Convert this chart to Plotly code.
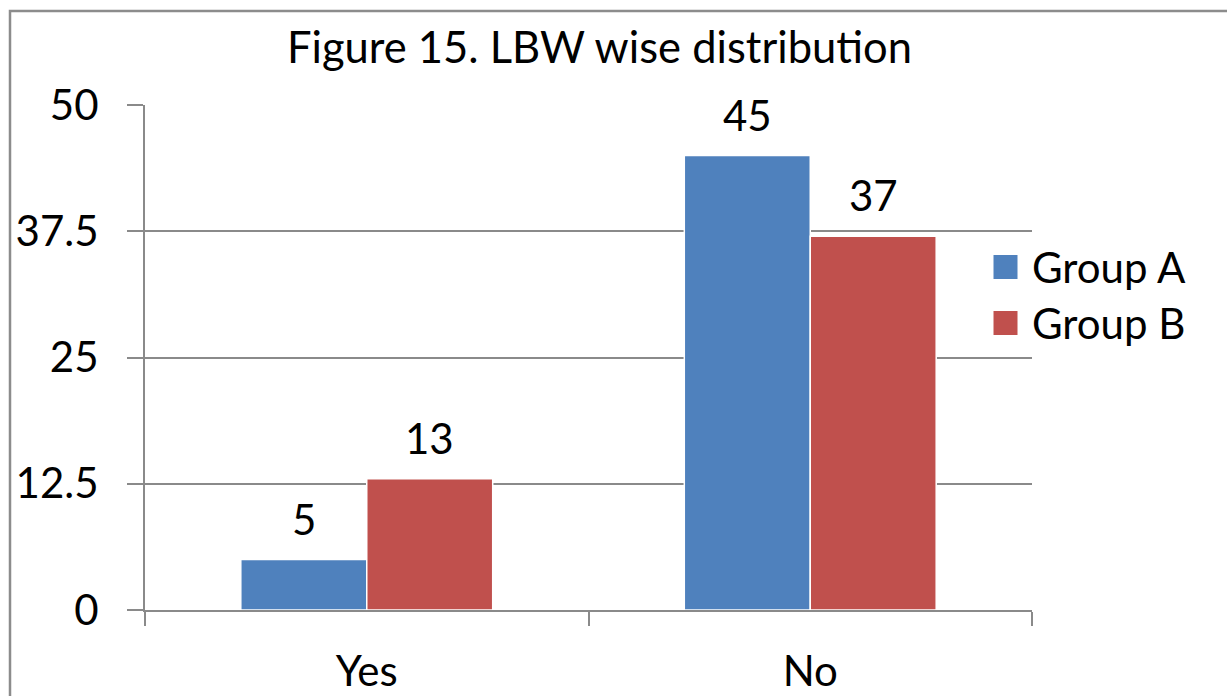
import plotly.graph_objects as go

# Data
categories = ["Yes", "No"]
group_a = [5, 45]
group_b = [13, 37]
series_names = ["Group A", "Group B"]
series_colors = ["#4F81BD", "#C0504D"]
y_ticks = [0, 12.5, 25, 37.5, 50]
y_tick_text = ["0", "12.5", "25", "37.5", "50"]
title_text = "Figure 15. LBW wise distribution"

FONT = "Lato"
GRID = "#8a8a8a"
BARGAP = 0.432

# plot-area geometry in pixels (used to place the frame and legend)
W, H = 1227, 696
L, R, T, B = 145, 1032, 105, 610


def px_x(p):
    return (p - L) / (R - L)


def px_y(p):
    return (B - p) / (B - T)


fig = go.Figure()
series_vals = [group_a, group_b]
for name, vals, col in zip(series_names, series_vals, series_colors):
    fig.add_trace(go.Bar(
        x=categories, y=vals, name=name,
        marker=dict(color=col, line=dict(color="white", width=1.5)),
        showlegend=False,
    ))

# value labels above each bar
cat_w = (R - L) / len(categories)
bar_w = cat_w * (1 - BARGAP) / len(series_vals)
for s, vals in enumerate(series_vals):
    off = (s - (len(series_vals) - 1) / 2) * bar_w
    for c, v in zip(categories, vals):
        fig.add_annotation(
            x=c, y=v, xref="x", yref="y", text=str(v), showarrow=False,
            xshift=off, yshift=41, xanchor="center", yanchor="middle",
            font=dict(family=FONT, size=42, color="black"),
        )

fig.update_layout(
    width=W, height=H,
    margin=dict(l=L, r=W - R, t=T, b=H - B),
    paper_bgcolor="white", plot_bgcolor="white",
    barmode="group", bargap=BARGAP, bargroupgap=0,
    font=dict(family=FONT, size=42, color="black"),
    showlegend=False,
)

fig.update_yaxes(
    range=[0, 50], tickvals=y_ticks, ticktext=y_tick_text,
    showgrid=True, gridcolor=GRID, gridwidth=2,
    showline=True, linecolor=GRID, linewidth=2,
    ticks="outside", ticklen=16, tickcolor=GRID, tickwidth=2,
    ticklabelstandoff=20, zeroline=False, automargin=False,
    tickfont=dict(family=FONT, size=42, color="black"),
)
fig.update_xaxes(
    showline=True, linecolor=GRID, linewidth=2,
    ticks="outside", tickson="boundaries", ticklen=14, tickcolor=GRID, tickwidth=2,
    ticklabelstandoff=24, automargin=False,
    tickfont=dict(family=FONT, size=42, color="black"),
)

# title
fig.add_annotation(
    text=title_text, xref="paper", yref="paper",
    x=px_x(599), y=px_y(46), xanchor="center", yanchor="middle",
    showarrow=False, font=dict(family=FONT, size=43.5, color="black"),
)

# outer chart frame
fig.add_shape(
    type="rect", xref="paper", yref="paper",
    x0=px_x(10), x1=px_x(W + 20), y0=px_y(H + 20), y1=px_y(11),
    line=dict(color="#8c8c8c", width=2.5), fillcolor="rgba(0,0,0,0)", layer="above",
)

# legend
for i, (name, col) in enumerate(zip(series_names, series_colors)):
    cy = 267 + i * 56
    fig.add_shape(
        type="rect", xref="paper", yref="paper",
        x0=px_x(993), x1=px_x(1018), y0=px_y(cy + 12.5), y1=px_y(cy - 12.5),
        fillcolor=col, line=dict(color="white", width=1),
    )
    fig.add_annotation(
        text=name, xref="paper", yref="paper",
        x=px_x(1030), y=px_y(cy), xanchor="left", yanchor="middle",
        showarrow=False, font=dict(family=FONT, size=42, color="black"),
    )

fig.write_html("out.html")
